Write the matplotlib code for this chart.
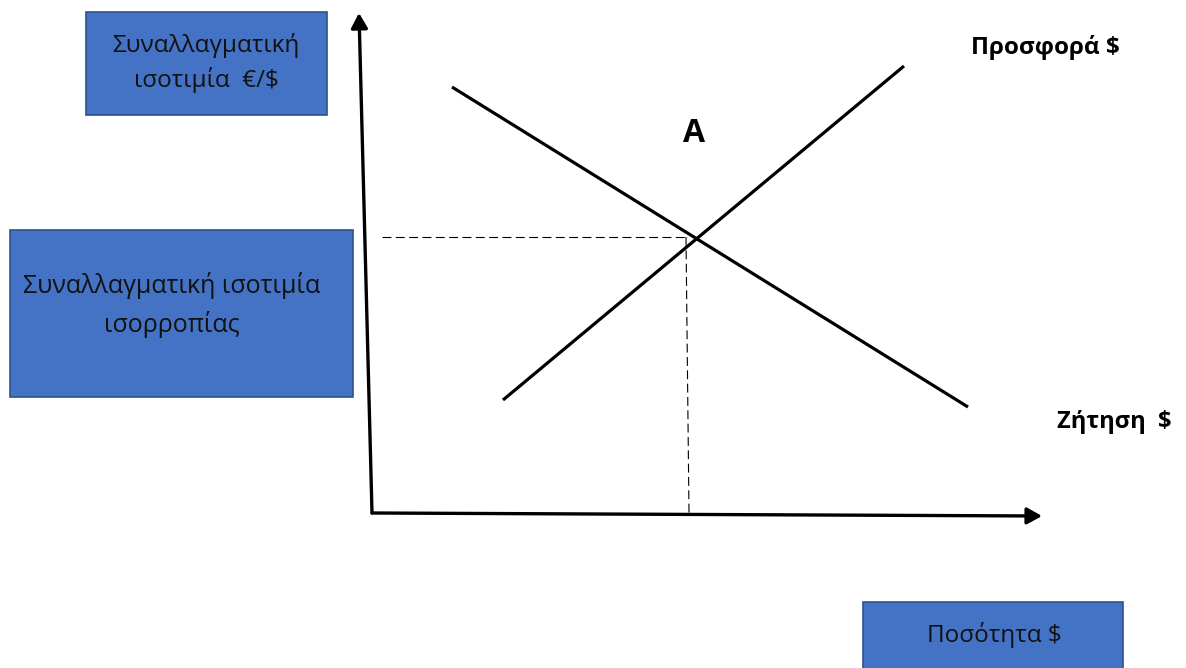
import matplotlib.pyplot as plt
from matplotlib.patches import Rectangle

plt.rcParams['font.family'] = ['Open Sans', 'DejaVu Sans']

# diagram geometry, in picture pixels (y grows downward)
origin = (372, 513)
y_axis_tip = (359, 13)
x_axis_tip = (1042, 516)
demand_x = [452, 968]
demand_y = [87, 407]
supply_x = [503, 904]
supply_y = [400, 66]
eq_x = 686
eq_y = 237
dash_start_x = 382

# text boxes: (left, top, width, height)
boxes = [
    (86, 12, 241, 103),
    (10, 230, 343, 167),
    (863, 602, 260, 80),
]
# box texts: (x, y, label, fontsize, linespacing)
box_texts = [
    (206, 63, 'Συναλλαγματική\nισοτιμία  €/$', 17.5, 1.45),
    (172, 305, 'Συναλλαγματική ισοτιμία\nισορροπίας', 18, 1.55),
    (994, 635, 'Ποσότητα $', 17.5, 1.2),
]
box_color = '#4472C4'
edge_color = '#2F528F'

fig = plt.figure(figsize=(11.86, 6.68), dpi=100)
ax = fig.add_axes([0, 0, 1, 1])
ax.set_xlim(0, 1186)
ax.set_ylim(668, 0)
ax.axis('off')

## boxes
for left, top, w, h in boxes:
    ax.add_patch(Rectangle((left, top), w, h, facecolor=box_color,
                           edgecolor=edge_color, lw=1.2))
for x, y, label, fs, ls in box_texts:
    ax.text(x, y, label, ha='center', va='center', fontsize=fs,
            color='#111111', linespacing=ls)

## axes arrows
arrow = dict(arrowstyle='-|>,head_length=0.9,head_width=0.5', lw=2.4,
             color='black', shrinkA=0, shrinkB=0)
ax.annotate('', xy=y_axis_tip, xytext=origin, arrowprops=arrow)
ax.annotate('', xy=x_axis_tip, xytext=origin, arrowprops=arrow)

## demand & supply
ax.plot(demand_x, demand_y, color='black', lw=2.3, solid_capstyle='butt')
ax.plot(supply_x, supply_y, color='black', lw=2.3, solid_capstyle='butt')

## dashed guides to equilibrium
ax.plot([dash_start_x, eq_x], [eq_y, eq_y], color='black', lw=0.8,
        dashes=(8, 4))
ax.plot([eq_x, eq_x + 3], [eq_y, origin[1]], color='black', lw=0.8,
        dashes=(8, 4))

## labels
ax.text(694, 133, 'A', ha='center', va='center', fontsize=23,
        fontweight='bold', color='black')
ax.text(1045, 48, 'Προσφορά $', ha='center', va='center', fontsize=17.5,
        fontweight='bold', color='black')
ax.text(1114, 422, 'Ζήτηση  $', ha='center', va='center', fontsize=17,
        fontweight='bold', color='black')

fig.savefig('out.png', dpi=100)
